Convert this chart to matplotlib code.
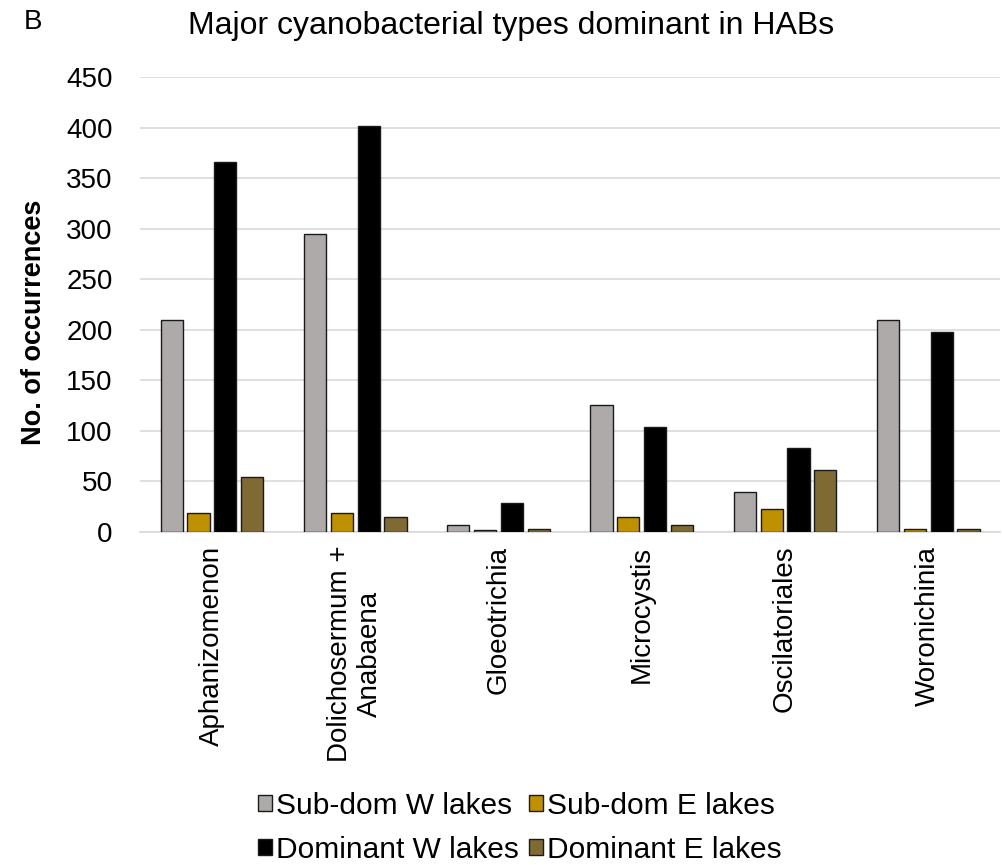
import matplotlib
matplotlib.use("Agg")
import matplotlib.pyplot as plt
import numpy as np

plt.rcParams['font.family'] = ['Liberation Sans', 'DejaVu Sans']

categories = ["Aphanizomenon", "Dolichosermum +\nAnabaena", "Gloeotrichia",
              "Microcystis", "Oscilatoriales", "Woronichinia"]
series_names = ["Sub-dom W lakes", "Sub-dom E lakes", "Dominant W lakes", "Dominant E lakes"]
sub_dom_w = [210, 295, 7, 126, 40, 210]
sub_dom_e = [19, 19, 2, 15, 23, 3]
dom_w = [366, 402, 29, 104, 83, 198]
dom_e = [54, 15, 3, 7, 61, 3]
colors = ["#AEAAAA", "#BF9000", "#000000", "#7F6A33"]
yticks = [0, 50, 100, 150, 200, 250, 300, 350, 400, 450]

fig = plt.figure(figsize=(10.02, 8.65), dpi=100)
ax = fig.add_axes([0.14, 0.385, 0.858, 0.526])

x = np.arange(len(categories))
step = 0.187
width = 0.155
all_series = [sub_dom_w, sub_dom_e, dom_w, dom_e]
handles = []
for i, (vals, name, c) in enumerate(zip(all_series, series_names, colors)):
    h = ax.bar(x + (i - 1.5) * step, vals, width=width, color=c, edgecolor="#1a1a1a",
               linewidth=1.0, label=name, zorder=3)
    handles.append(h)

ax.set_xlim(-0.5, len(categories) - 0.5)
ax.set_ylim(0, 450)
ax.set_yticks(yticks)
ax.set_yticklabels([str(t) for t in yticks], fontsize=20)
ax.set_xticks(x)
ax.set_xticklabels(categories, rotation=90, fontsize=20, ha="center", va="top",
                   multialignment="center")
ax.tick_params(axis="x", length=0, pad=10)
ax.tick_params(axis="y", length=0, pad=20)
ax.grid(axis="y", color="#d9d9d9", linewidth=1.2, zorder=0)
for s in ["top", "right", "left"]:
    ax.spines[s].set_visible(False)
ax.spines["bottom"].set_color("#d9d9d9")
ax.spines["bottom"].set_linewidth(1.2)

ax.set_ylabel("No. of occurrences", fontsize=19.5, fontweight="bold")
ax.yaxis.set_label_coords(-0.109, 0.46)

fig.text(0.51, 0.97, "Major cyanobacterial types dominant in HABs", fontsize=23,
         ha="center", va="center")
fig.text(0.024, 0.974, "B", fontsize=20, ha="left", va="center")

order = [0, 2, 1, 3]
leg = fig.legend([handles[i] for i in order], [series_names[i] for i in order],
                 loc="center", bbox_to_anchor=(0.519, 0.043), ncol=2, frameon=False,
                 fontsize=21.5, handlelength=0.45, handleheight=0.45, handletextpad=0.15,
                 columnspacing=0.35, labelspacing=0.55)

fig.savefig("out.png", dpi=100)
